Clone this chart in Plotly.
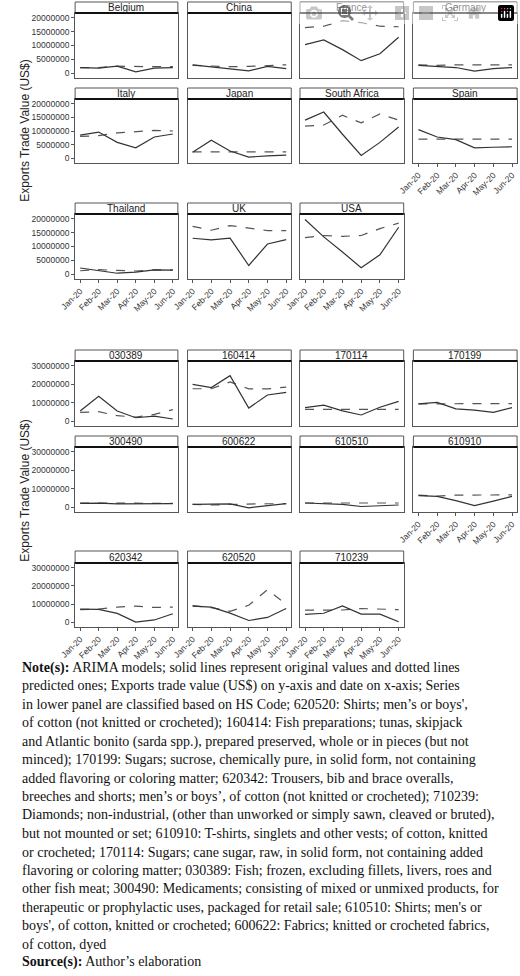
import plotly.graph_objects as go

W, H = 520, 976
months = ["Jan-20", "Feb-20", "Mar-20", "Apr-20", "May-20", "Jun-20"]

countries = ["Belgium", "China", "France", "Germany", "Italy", "Japan", "South Africa",
             "Spain", "Thailand", "UK", "USA"]
country_actual = [
    [2.0, 1.8, 2.5, 0.4, 1.8, 2.0], [3.0, 2.3, 1.4, 0.8, 2.4, 1.6],
    [10.3, 12.0, 8.5, 4.5, 7.0, 13.0], [2.8, 2.3, 2.0, 0.7, 1.6, 2.0],
    [8.5, 9.6, 5.8, 3.8, 7.8, 8.9], [2.2, 6.6, 2.6, 0.4, 0.8, 1.1],
    [14.0, 17.0, 8.8, 1.0, 5.8, 11.5], [10.5, 7.8, 6.8, 3.8, 4.0, 4.2],
    [2.2, 1.2, 0.3, 0.7, 1.5, 1.4], [13.0, 12.4, 13.0, 3.1, 10.9, 12.5],
    [19.8, 13.5, 8.0, 2.3, 7.0, 17.0]]
country_pred = [
    [2.0, 2.0, 2.5, 2.3, 2.3, 2.3], [2.8, 2.5, 2.3, 2.4, 2.6, 3.0],
    [16.5, 17.0, 19.0, 18.3, 17.0, 16.8], [3.0, 2.8, 3.0, 3.0, 2.9, 3.0],
    [8.0, 8.3, 9.3, 9.8, 10.2, 10.0], [2.3, 2.3, 2.3, 2.3, 2.3, 2.3],
    [11.8, 12.2, 15.8, 13.0, 16.3, 14.0], [7.0, 7.0, 7.0, 7.0, 7.0, 7.0],
    [1.2, 1.6, 1.3, 1.1, 1.5, 1.5], [17.3, 15.9, 17.6, 16.8, 15.8, 15.8],
    [13.2, 14.0, 13.7, 14.0, 16.5, 18.5]]

codes = ["030389", "160414", "170114", "170199", "300490", "600622", "610510",
         "610910", "620342", "620520", "710239"]
code_actual = [
    [5.5, 13.5, 5.5, 1.8, 2.7, 1.1], [20.0, 18.2, 24.7, 7.1, 14.2, 15.6],
    [7.3, 8.7, 5.5, 3.3, 7.5, 10.7], [9.3, 10.2, 6.6, 6.0, 4.7, 7.3],
    [2.0, 2.1, 1.7, 1.7, 1.7, 1.9], [1.4, 1.6, 1.7, -0.4, 0.9, 1.9],
    [2.2, 1.8, 1.4, 0.3, 0.5, 1.1], [6.2, 5.8, 3.5, 0.8, 3.2, 5.8],
    [7.2, 7.0, 4.8, 0.0, 1.2, 4.6], [8.9, 8.3, 5.0, 0.9, 2.6, 7.5],
    [4.3, 4.9, 9.0, 4.4, 4.4, 0.2]]
code_pred = [
    [4.7, 5.1, 2.9, 2.2, 3.6, 6.2], [17.6, 17.6, 21.3, 17.5, 17.5, 18.5],
    [6.4, 6.4, 6.4, 6.4, 6.4, 6.4], [9.3, 9.5, 9.5, 9.5, 9.5, 9.5],
    [2.2, 2.2, 2.0, 2.0, 2.0, 2.0], [1.4, 1.1, 1.4, 1.8, 1.8, 1.8],
    [2.2, 2.2, 2.2, 2.2, 2.2, 2.2], [6.5, 6.0, 6.5, 6.5, 6.6, 6.6],
    [6.9, 7.2, 8.3, 8.9, 8.1, 8.3], [9.1, 8.0, 6.0, 9.3, 17.9, 9.8],
    [6.6, 6.7, 6.7, 7.5, 7.3, 6.9]]

note_lines = [
    "<b>Note(s):</b> ARIMA models; solid lines represent original values and dotted lines",
    "predicted ones; Exports trade value (US$) on y-axis and date on x-axis; Series",
    "in lower panel are classified based on HS Code; 620520: Shirts; men’s or boys',",
    "of cotton (not knitted or crocheted); 160414: Fish preparations; tunas, skipjack",
    "and Atlantic bonito (sarda spp.), prepared preserved, whole or in pieces (but not",
    "minced); 170199: Sugars; sucrose, chemically pure, in solid form, not containing",
    "added flavoring or coloring matter; 620342: Trousers, bib and brace overalls,",
    "breeches and shorts; men’s or boys’, of cotton (not knitted or crocheted); 710239:",
    "Diamonds; non-industrial, (other than unworked or simply sawn, cleaved or bruted),",
    "but not mounted or set; 610910: T-shirts, singlets and other vests; of cotton, knitted",
    "or crocheted; 170114: Sugars; cane sugar, raw, in solid form, not containing added",
    "flavoring or coloring matter; 030389: Fish; frozen, excluding fillets, livers, roes and",
    "other fish meat; 300490: Medicaments; consisting of mixed or unmixed products, for",
    "therapeutic or prophylactic uses, packaged for retail sale; 610510: Shirts; men's or",
    "boys', of cotton, knitted or crocheted; 600622: Fabrics; knitted or crocheted fabrics,",
    "of cotton, dyed",
    "<b>Source(s):</b> Author’s elaboration",
]

fig = go.Figure()
layout = {}
shapes, annots = [], []
cols = [(61, 167), (177, 284), (293, 400), (410, 517)]

def px_x(v): return v / W
def px_y(v): return 1 - v / H

def panel(n, name, act, pred, x0, x1, ytop, ybot, strip_top, yrange, ytickvals, showy, showx):
    xa, ya = f"xaxis{n}", f"yaxis{n}"
    xr, yr = f"x{n}", f"y{n}"
    fig.add_trace(go.Scatter(x=list(range(6)), y=[v * 1e6 for v in pred], xaxis=xr, yaxis=yr,
                             mode="lines", line=dict(color="#555", width=1.2, dash="dash"),
                             showlegend=False))
    fig.add_trace(go.Scatter(x=list(range(6)), y=[v * 1e6 for v in act], xaxis=xr, yaxis=yr,
                             mode="lines", line=dict(color="#333", width=1.2),
                             showlegend=False))
    layout[xa] = dict(domain=[px_x(x0), px_x(x1)], anchor=yr, range=[-0.27, 5.27],
                      tickvals=list(range(6)), ticktext=months if showx else [""] * 6,
                      showgrid=False, zeroline=False, showline=True, mirror=True,
                      linecolor="#555", linewidth=1, ticks="outside" if showx else "",
                      ticklen=3, tickcolor="#555", tickangle=-45,
                      tickfont=dict(size=8.5, color="#333", family="Liberation Sans"))
    layout[ya] = dict(domain=[px_y(ybot), px_y(ytop)], anchor=xr, range=yrange,
                      tickvals=ytickvals, ticktext=[str(int(v)) for v in ytickvals] if showy else [""] * len(ytickvals),
                      showgrid=False, zeroline=False, showline=True, mirror=True,
                      linecolor="#555", linewidth=1, ticks="outside" if showy else "",
                      ticklen=3, tickcolor="#555",
                      tickfont=dict(size=8.5, color="#333", family="Liberation Sans"))
    shapes.append(dict(type="rect", xref="paper", yref="paper", x0=px_x(x0), x1=px_x(x1),
                       y0=px_y(ytop), y1=px_y(strip_top), line=dict(color="#555", width=1),
                       fillcolor="white"))
    shapes.append(dict(type="line", xref="paper", yref="paper", x0=px_x(x0), x1=px_x(x1),
                       y0=px_y(ytop), y1=px_y(ytop), line=dict(color="#111", width=1.8)))
    annots.append(dict(text=name, xref="paper", yref="paper", x=px_x((x0 + x1) / 2),
                       y=px_y((strip_top + ytop) / 2), showarrow=False,
                       font=dict(size=10, color="#222", family="Liberation Sans"),
                       xanchor="center", yanchor="middle"))

top_rows = [(2, 13, 78), (88, 99, 163), (203, 214, 279)]
bot_rows = [(350, 361, 426), (436, 447, 512), (551, 563, 627)]
n = 1
for group, rows, names, A, P, yrange, tv in [
    ("top", top_rows, countries, country_actual, country_pred, [-1.8e6, 21.8e6],
     [0, 5e6, 10e6, 15e6, 20e6]),
    ("bot", bot_rows, codes, code_actual, code_pred, [-2.7e6, 32.7e6],
     [0, 10e6, 20e6, 30e6])]:
    for i, name in enumerate(names):
        r, c = divmod(i, 4)
        st, yt, yb = rows[r]
        showx = (r == 2) or (r == 1 and c == 3)
        panel(n, name, A[i], P[i], cols[c][0], cols[c][1], yt, yb, st, yrange, tv, c == 0, showx)
        n += 1

for yc in (130, 490):
    annots.append(dict(text="Exports Trade Value (US$)", xref="paper", yref="paper",
                       x=px_x(9), y=px_y(yc), textangle=-90, showarrow=False,
                       font=dict(size=12, color="#222", family="Liberation Sans"),
                       xanchor="center", yanchor="middle"))

for k, line in enumerate(note_lines):
    annots.append(dict(text=line, xref="paper", yref="paper", x=px_x(4),
                       y=px_y(668 + k * 18.4), showarrow=False, xanchor="left",
                       yanchor="middle", font=dict(size=14, color="#111", family="Liberation Serif")))

fig.update_layout(width=W, height=H, autosize=False, margin=dict(l=0, r=0, t=0, b=0),
                  paper_bgcolor="white", plot_bgcolor="white", shapes=shapes,
                  annotations=annots, **layout)
fig.write_html("out.html",
               post_script="document.body.style.margin='0';document.body.style.overflow='hidden';")
